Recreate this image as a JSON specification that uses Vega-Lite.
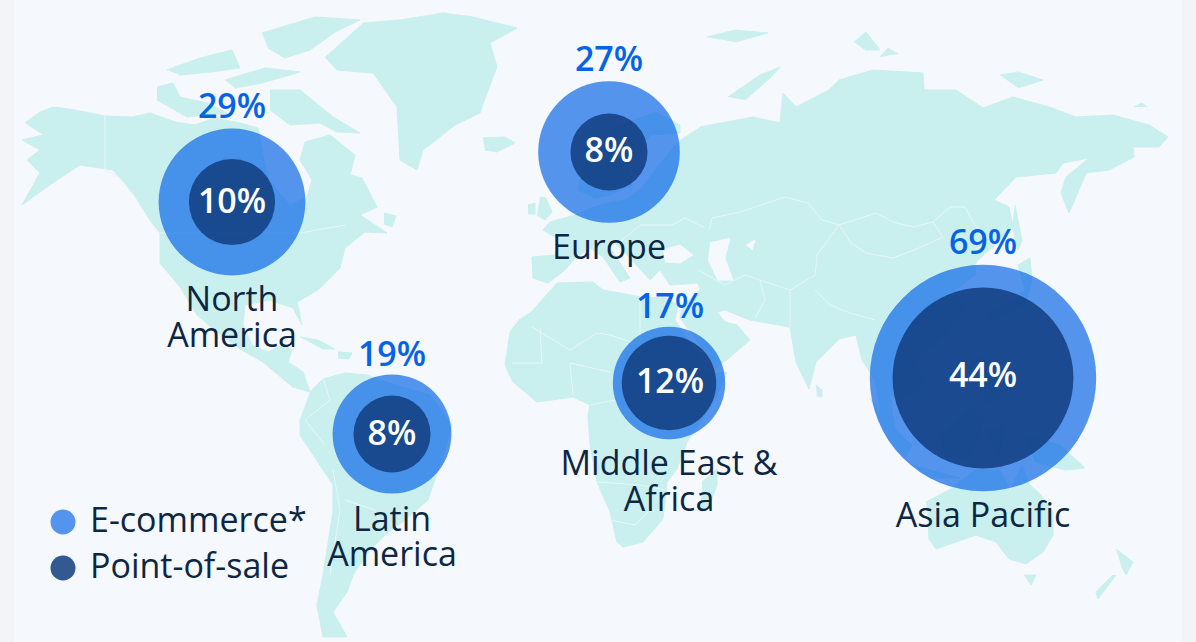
{"$schema":"https://vega.github.io/schema/vega-lite/v6.json","width":1196,"height":642,"padding":0,"autosize":{"type":"none"},"background":"#f3f4f6","config":{"view":{"stroke":null},"font":"Open Sans"},
"datasets":{
"panel":[{"x":14,"x2":1182,"y":0,"y2":642}],
"land":[
{"g":"na","x":25,"y":123},{"g":"na","x":40,"y":112},{"g":"na","x":53,"y":107},{"g":"na","x":75,"y":110},{"g":"na","x":105,"y":116},{"g":"na","x":133,"y":117},{"g":"na","x":150,"y":113},{"g":"na","x":175,"y":122},{"g":"na","x":195,"y":125},{"g":"na","x":215,"y":118},{"g":"na","x":240,"y":123},{"g":"na","x":258,"y":128},{"g":"na","x":262,"y":150},{"g":"na","x":268,"y":180},{"g":"na","x":290,"y":205},{"g":"na","x":307,"y":197},{"g":"na","x":312,"y":180},{"g":"na","x":300,"y":160},{"g":"na","x":305,"y":142},{"g":"na","x":330,"y":135},{"g":"na","x":355,"y":155},{"g":"na","x":350,"y":175},{"g":"na","x":362,"y":178},{"g":"na","x":377,"y":207},{"g":"na","x":360,"y":215},{"g":"na","x":387,"y":233},{"g":"na","x":365,"y":232},{"g":"na","x":345,"y":248},{"g":"na","x":340,"y":268},{"g":"na","x":318,"y":290},{"g":"na","x":297,"y":302},{"g":"na","x":302,"y":325},{"g":"na","x":293,"y":308},{"g":"na","x":270,"y":300},{"g":"na","x":245,"y":305},{"g":"na","x":243,"y":325},{"g":"na","x":252,"y":345},{"g":"na","x":268,"y":352},{"g":"na","x":283,"y":345},{"g":"na","x":292,"y":350},{"g":"na","x":288,"y":362},{"g":"na","x":303,"y":372},{"g":"na","x":310,"y":392},{"g":"na","x":293,"y":387},{"g":"na","x":283,"y":379},{"g":"na","x":263,"y":362},{"g":"na","x":240,"y":349},{"g":"na","x":217,"y":332},{"g":"na","x":197,"y":315},{"g":"na","x":180,"y":287},{"g":"na","x":160,"y":263},{"g":"na","x":160,"y":233},{"g":"na","x":150,"y":220},{"g":"na","x":133,"y":193},{"g":"na","x":113,"y":170},{"g":"na","x":80,"y":165},{"g":"na","x":57,"y":180},{"g":"na","x":22,"y":205},{"g":"na","x":40,"y":173},{"g":"na","x":27,"y":160},{"g":"na","x":40,"y":150},{"g":"na","x":22,"y":140},{"g":"na","x":43,"y":135},
{"g":"vic","x":157,"y":87},{"g":"vic","x":173,"y":83},{"g":"vic","x":180,"y":97},{"g":"vic","x":207,"y":103},{"g":"vic","x":227,"y":113},{"g":"vic","x":187,"y":117},{"g":"vic","x":157,"y":100},
{"g":"baf","x":270,"y":90},{"g":"baf","x":300,"y":90},{"g":"baf","x":333,"y":117},{"g":"baf","x":360,"y":133},{"g":"baf","x":337,"y":132},{"g":"baf","x":320,"y":123},{"g":"baf","x":290,"y":125},{"g":"baf","x":270,"y":110},
{"g":"ell","x":262,"y":33},{"g":"ell","x":315,"y":17},{"g":"ell","x":360,"y":20},{"g":"ell","x":335,"y":32},{"g":"ell","x":310,"y":50},{"g":"ell","x":285,"y":58},{"g":"ell","x":268,"y":48},
{"g":"qe","x":167,"y":70},{"g":"qe","x":200,"y":58},{"g":"qe","x":232,"y":50},{"g":"qe","x":240,"y":68},{"g":"qe","x":210,"y":72},{"g":"qe","x":180,"y":75},
{"g":"dev","x":225,"y":80},{"g":"dev","x":265,"y":68},{"g":"dev","x":300,"y":72},{"g":"dev","x":262,"y":83},{"g":"dev","x":235,"y":88},
{"g":"nfl","x":384,"y":213},{"g":"nfl","x":396,"y":216},{"g":"nfl","x":392,"y":227},{"g":"nfl","x":384,"y":224},
{"g":"cub","x":300,"y":337},{"g":"cub","x":318,"y":340},{"g":"cub","x":335,"y":349},{"g":"cub","x":322,"y":349},
{"g":"his","x":338,"y":352},{"g":"his","x":352,"y":353},{"g":"his","x":349,"y":359},{"g":"his","x":338,"y":358},
{"g":"grl","x":363,"y":23},{"g":"grl","x":400,"y":20},{"g":"grl","x":443,"y":13},{"g":"grl","x":473,"y":17},{"g":"grl","x":517,"y":28},{"g":"grl","x":490,"y":43},{"g":"grl","x":497,"y":67},{"g":"grl","x":487,"y":93},{"g":"grl","x":480,"y":113},{"g":"grl","x":455,"y":125},{"g":"grl","x":423,"y":150},{"g":"grl","x":417,"y":170},{"g":"grl","x":400,"y":160},{"g":"grl","x":397,"y":107},{"g":"grl","x":373,"y":73},{"g":"grl","x":337,"y":70},{"g":"grl","x":325,"y":57},
{"g":"ice","x":483,"y":138},{"g":"ice","x":505,"y":137},{"g":"ice","x":515,"y":143},{"g":"ice","x":497,"y":152},{"g":"ice","x":485,"y":150},
{"g":"uk","x":540,"y":197},{"g":"uk","x":546,"y":198},{"g":"uk","x":552,"y":212},{"g":"uk","x":545,"y":220},{"g":"uk","x":537,"y":215},
{"g":"ire","x":528,"y":205},{"g":"ire","x":535,"y":203},{"g":"ire","x":535,"y":214},{"g":"ire","x":528,"y":214},
{"g":"sca","x":655,"y":112},{"g":"sca","x":680,"y":125},{"g":"sca","x":680,"y":133},{"g":"sca","x":650,"y":135},{"g":"sca","x":628,"y":165},{"g":"sca","x":632,"y":185},{"g":"sca","x":610,"y":195},{"g":"sca","x":595,"y":198},{"g":"sca","x":578,"y":190},{"g":"sca","x":585,"y":165},{"g":"sca","x":620,"y":125},
{"g":"eur","x":700,"y":127},{"g":"eur","x":753,"y":117},{"g":"eur","x":780,"y":123},{"g":"eur","x":783,"y":93},{"g":"eur","x":796,"y":107},{"g":"eur","x":829,"y":90},{"g":"eur","x":839,"y":80},{"g":"eur","x":873,"y":70},{"g":"eur","x":923,"y":73},{"g":"eur","x":924,"y":90},{"g":"eur","x":956,"y":90},{"g":"eur","x":983,"y":108},{"g":"eur","x":1013,"y":97},{"g":"eur","x":1049,"y":107},{"g":"eur","x":1076,"y":117},{"g":"eur","x":1113,"y":115},{"g":"eur","x":1149,"y":125},{"g":"eur","x":1168,"y":137},{"g":"eur","x":1159,"y":147},{"g":"eur","x":1133,"y":147},{"g":"eur","x":1134,"y":157},{"g":"eur","x":1109,"y":170},{"g":"eur","x":1086,"y":173},{"g":"eur","x":1079,"y":190},{"g":"eur","x":1069,"y":213},{"g":"eur","x":1061,"y":193},{"g":"eur","x":1066,"y":177},{"g":"eur","x":1089,"y":158},{"g":"eur","x":1063,"y":163},{"g":"eur","x":1056,"y":173},{"g":"eur","x":1016,"y":177},{"g":"eur","x":994,"y":200},{"g":"eur","x":1009,"y":207},{"g":"eur","x":1013,"y":227},{"g":"eur","x":1000,"y":240},{"g":"eur","x":976,"y":262},{"g":"eur","x":975,"y":275},{"g":"eur","x":955,"y":290},{"g":"eur","x":965,"y":310},{"g":"eur","x":940,"y":340},{"g":"eur","x":915,"y":360},{"g":"eur","x":925,"y":385},{"g":"eur","x":905,"y":400},{"g":"eur","x":890,"y":395},{"g":"eur","x":895,"y":430},{"g":"eur","x":882,"y":420},{"g":"eur","x":875,"y":380},{"g":"eur","x":862,"y":360},{"g":"eur","x":856,"y":335},{"g":"eur","x":839,"y":339},{"g":"eur","x":816,"y":362},{"g":"eur","x":809,"y":389},{"g":"eur","x":796,"y":362},{"g":"eur","x":790,"y":327},{"g":"eur","x":750,"y":320},{"g":"eur","x":725,"y":310},{"g":"eur","x":717,"y":312},{"g":"eur","x":725,"y":322},{"g":"eur","x":737,"y":325},{"g":"eur","x":750,"y":340},{"g":"eur","x":728,"y":359},{"g":"eur","x":715,"y":368},{"g":"eur","x":700,"y":345},{"g":"eur","x":680,"y":318},{"g":"eur","x":683,"y":305},{"g":"eur","x":700,"y":290},{"g":"eur","x":698,"y":283},{"g":"eur","x":670,"y":285},{"g":"eur","x":660,"y":270},{"g":"eur","x":650,"y":280},{"g":"eur","x":630,"y":258},{"g":"eur","x":615,"y":243},{"g":"eur","x":610,"y":248},{"g":"eur","x":630,"y":278},{"g":"eur","x":620,"y":282},{"g":"eur","x":603,"y":257},{"g":"eur","x":590,"y":248},{"g":"eur","x":575,"y":258},{"g":"eur","x":565,"y":270},{"g":"eur","x":548,"y":283},{"g":"eur","x":533,"y":278},{"g":"eur","x":532,"y":257},{"g":"eur","x":555,"y":255},{"g":"eur","x":560,"y":240},{"g":"eur","x":543,"y":230},{"g":"eur","x":550,"y":222},{"g":"eur","x":575,"y":215},{"g":"eur","x":600,"y":205},{"g":"eur","x":625,"y":200},{"g":"eur","x":640,"y":190},{"g":"eur","x":655,"y":170},{"g":"eur","x":680,"y":140},
{"g":"nz1","x":728,"y":97},{"g":"nz1","x":760,"y":75},{"g":"nz1","x":780,"y":67},{"g":"nz1","x":770,"y":78},{"g":"nz1","x":745,"y":100},
{"g":"sv","x":707,"y":37},{"g":"sv","x":735,"y":30},{"g":"sv","x":768,"y":33},{"g":"sv","x":735,"y":42},
{"g":"si1","x":854,"y":42},{"g":"si1","x":866,"y":32},{"g":"si1","x":880,"y":50},{"g":"si1","x":865,"y":50},
{"g":"si2","x":880,"y":57},{"g":"si2","x":888,"y":48},{"g":"si2","x":898,"y":54},
{"g":"si3","x":1000,"y":75},{"g":"si3","x":1018,"y":72},{"g":"si3","x":1043,"y":80},{"g":"si3","x":1018,"y":88},
{"g":"wr","x":1134,"y":107},{"g":"wr","x":1142,"y":103},{"g":"wr","x":1147,"y":107},
{"g":"sak","x":1015,"y":205},{"g":"sak","x":1022,"y":240},{"g":"sak","x":1018,"y":250},{"g":"sak","x":1012,"y":225},
{"g":"jap","x":1010,"y":300},{"g":"jap","x":1025,"y":290},{"g":"jap","x":1018,"y":265},{"g":"jap","x":1030,"y":258},{"g":"jap","x":1032,"y":280},{"g":"jap","x":1025,"y":305},{"g":"jap","x":995,"y":320},{"g":"jap","x":985,"y":318},
{"g":"sri","x":816,"y":385},{"g":"sri","x":822,"y":390},{"g":"sri","x":822,"y":397},{"g":"sri","x":817,"y":396},
{"g":"sum","x":870,"y":398},{"g":"sum","x":890,"y":425},{"g":"sum","x":912,"y":445},{"g":"sum","x":905,"y":458},{"g":"sum","x":885,"y":435},
{"g":"jav","x":912,"y":465},{"g":"jav","x":960,"y":478},{"g":"jav","x":930,"y":478},
{"g":"bor","x":940,"y":435},{"g":"bor","x":970,"y":405},{"g":"bor","x":985,"y":420},{"g":"bor","x":970,"y":458},{"g":"bor","x":945,"y":455},
{"g":"phi","x":975,"y":355},{"g":"phi","x":985,"y":360},{"g":"phi","x":1000,"y":400},{"g":"phi","x":985,"y":405},
{"g":"sul","x":985,"y":430},{"g":"sul","x":1005,"y":425},{"g":"sul","x":998,"y":460},
{"g":"png","x":1025,"y":435},{"g":"png","x":1060,"y":445},{"g":"png","x":1085,"y":468},{"g":"png","x":1065,"y":470},{"g":"png","x":1035,"y":462},
{"g":"aus","x":926,"y":502},{"g":"aus","x":949,"y":490},{"g":"aus","x":975,"y":470},{"g":"aus","x":1000,"y":470},{"g":"aus","x":1010,"y":490},{"g":"aus","x":1022,"y":465},{"g":"aus","x":1029,"y":484},{"g":"aus","x":1041,"y":495},{"g":"aus","x":1053,"y":512},{"g":"aus","x":1053,"y":535},{"g":"aus","x":1043,"y":552},{"g":"aus","x":1026,"y":564},{"g":"aus","x":1009,"y":559},{"g":"aus","x":996,"y":542},{"g":"aus","x":976,"y":535},{"g":"aus","x":956,"y":542},{"g":"aus","x":936,"y":549},{"g":"aus","x":929,"y":539},{"g":"aus","x":928,"y":519},
{"g":"tas","x":1024,"y":575},{"g":"tas","x":1036,"y":575},{"g":"tas","x":1031,"y":585},
{"g":"nzn","x":1116,"y":549},{"g":"nzn","x":1133,"y":562},{"g":"nzn","x":1126,"y":575},{"g":"nzn","x":1121,"y":565},
{"g":"nzs","x":1116,"y":575},{"g":"nzs","x":1098,"y":599},{"g":"nzs","x":1096,"y":592},{"g":"nzs","x":1113,"y":575},
{"g":"afr","x":533,"y":310},{"g":"afr","x":557,"y":283},{"g":"afr","x":593,"y":282},{"g":"afr","x":603,"y":290},{"g":"afr","x":620,"y":293},{"g":"afr","x":640,"y":297},{"g":"afr","x":665,"y":298},{"g":"afr","x":678,"y":305},{"g":"afr","x":675,"y":320},{"g":"afr","x":695,"y":350},{"g":"afr","x":708,"y":375},{"g":"afr","x":727,"y":372},{"g":"afr","x":715,"y":400},{"g":"afr","x":687,"y":442},{"g":"afr","x":677,"y":469},{"g":"afr","x":667,"y":482},{"g":"afr","x":663,"y":519},{"g":"afr","x":643,"y":542},{"g":"afr","x":623,"y":547},{"g":"afr","x":617,"y":542},{"g":"afr","x":610,"y":512},{"g":"afr","x":597,"y":482},{"g":"afr","x":590,"y":445},{"g":"afr","x":588,"y":415},{"g":"afr","x":590,"y":405},{"g":"afr","x":573,"y":397},{"g":"afr","x":537,"y":402},{"g":"afr","x":513,"y":382},{"g":"afr","x":505,"y":365},{"g":"afr","x":510,"y":332},{"g":"afr","x":520,"y":319},
{"g":"mad","x":702,"y":482},{"g":"mad","x":717,"y":469},{"g":"mad","x":717,"y":485},{"g":"mad","x":708,"y":509},{"g":"mad","x":700,"y":512},{"g":"mad","x":702,"y":495},
{"g":"sam","x":310,"y":392},{"g":"sam","x":323,"y":379},{"g":"sam","x":345,"y":373},{"g":"sam","x":367,"y":375},{"g":"sam","x":395,"y":385},{"g":"sam","x":430,"y":395},{"g":"sam","x":452,"y":425},{"g":"sam","x":445,"y":450},{"g":"sam","x":433,"y":485},{"g":"sam","x":428,"y":500},{"g":"sam","x":405,"y":520},{"g":"sam","x":385,"y":535},{"g":"sam","x":370,"y":550},{"g":"sam","x":353,"y":575},{"g":"sam","x":347,"y":592},{"g":"sam","x":333,"y":612},{"g":"sam","x":347,"y":637},{"g":"sam","x":323,"y":637},{"g":"sam","x":317,"y":605},{"g":"sam","x":323,"y":575},{"g":"sam","x":333,"y":512},{"g":"sam","x":333,"y":485},{"g":"sam","x":300,"y":435},{"g":"sam","x":300,"y":419}
],
"water":[
{"g":"bla","x":663,"y":250},{"g":"bla","x":680,"y":245},{"g":"bla","x":693,"y":255},{"g":"bla","x":680,"y":263},{"g":"bla","x":665,"y":262},
{"g":"cas","x":710,"y":243},{"g":"cas","x":730,"y":238},{"g":"cas","x":725,"y":258},{"g":"cas","x":733,"y":280},{"g":"cas","x":718,"y":280},{"g":"cas","x":708,"y":260},
{"g":"ara","x":746,"y":245},{"g":"ara","x":755,"y":240},{"g":"ara","x":752,"y":250}
],
"borders":[
{"g":"b1","x":105,"y":116},{"g":"b1","x":105,"y":170},{"g":"b1","x":120,"y":178},{"g":"b1","x":133,"y":195},
{"g":"b2","x":160,"y":233},{"g":"b2","x":300,"y":233},{"g":"b2","x":345,"y":225},
{"g":"mon","x":839,"y":225},{"g":"mon","x":876,"y":213},{"g":"mon","x":893,"y":222},{"g":"mon","x":913,"y":227},{"g":"mon","x":933,"y":222},{"g":"mon","x":943,"y":237},{"g":"mon","x":919,"y":248},{"g":"mon","x":893,"y":258},{"g":"mon","x":866,"y":253},{"g":"mon","x":851,"y":243},{"g":"mon","x":839,"y":225},
{"g":"chn","x":933,"y":222},{"g":"chn","x":950,"y":207},{"g":"chn","x":965,"y":207},{"g":"chn","x":975,"y":225},{"g":"chn","x":990,"y":240},{"g":"chn","x":975,"y":250},
{"g":"kaz","x":709,"y":230},{"g":"kaz","x":712,"y":218},{"g":"kaz","x":740,"y":212},{"g":"kaz","x":785,"y":197},{"g":"kaz","x":808,"y":203},{"g":"kaz","x":822,"y":220},{"g":"kaz","x":839,"y":225},
{"g":"in1","x":815,"y":275},{"g":"in1","x":817,"y":255},{"g":"in1","x":839,"y":225},
{"g":"hml","x":815,"y":290},{"g":"hml","x":830,"y":305},{"g":"hml","x":850,"y":313},{"g":"hml","x":875,"y":320},
{"g":"pak","x":790,"y":327},{"g":"pak","x":790,"y":290},{"g":"pak","x":815,"y":275},
{"g":"irn","x":760,"y":280},{"g":"irn","x":765,"y":300},{"g":"irn","x":755,"y":318},
{"g":"tur","x":698,"y":270},{"g":"tur","x":725,"y":285},{"g":"tur","x":745,"y":275},{"g":"tur","x":790,"y":290},
{"g":"eu1","x":620,"y":242},{"g":"eu1","x":640,"y":225},{"g":"eu1","x":672,"y":225},{"g":"eu1","x":685,"y":218},{"g":"eu1","x":705,"y":228},
{"g":"a1","x":640,"y":297},{"g":"a1","x":640,"y":365},
{"g":"a2","x":532,"y":327},{"g":"a2","x":570,"y":350},{"g":"a2","x":597,"y":333},{"g":"a2","x":610,"y":335},{"g":"a2","x":640,"y":345},
{"g":"a3","x":512,"y":363},{"g":"a3","x":542,"y":363},{"g":"a3","x":540,"y":328},
{"g":"a4","x":573,"y":395},{"g":"a4","x":570,"y":363},{"g":"a4","x":610,"y":372},
{"g":"a5","x":590,"y":405},{"g":"a5","x":615,"y":400},{"g":"a5","x":630,"y":415},{"g":"a5","x":660,"y":440},
{"g":"a6","x":597,"y":482},{"g":"a6","x":640,"y":485},{"g":"a6","x":665,"y":490},
{"g":"a7","x":610,"y":520},{"g":"a7","x":635,"y":525},{"g":"a7","x":650,"y":510},
{"g":"s1","x":323,"y":378},{"g":"s1","x":330,"y":400},{"g":"s1","x":305,"y":420},{"g":"s1","x":325,"y":445},
{"g":"s2","x":333,"y":470},{"g":"s2","x":340,"y":510},{"g":"s2","x":330,"y":575},
{"g":"s3","x":345,"y":500},{"g":"s3","x":375,"y":510},{"g":"s3","x":385,"y":535}
],
"bubbles":[
{"region":"North America","channel":"E-commerce*","share":29,"x":232,"y":202},
{"region":"Europe","channel":"E-commerce*","share":27,"x":609,"y":152},
{"region":"Latin America","channel":"E-commerce*","share":19,"x":392,"y":434},
{"region":"Middle East & Africa","channel":"E-commerce*","share":17,"x":669,"y":383},
{"region":"Asia Pacific","channel":"E-commerce*","share":69,"x":983,"y":378},
{"region":"North America","channel":"Point-of-sale","share":10,"x":232,"y":202},
{"region":"Europe","channel":"Point-of-sale","share":8,"x":609,"y":152},
{"region":"Latin America","channel":"Point-of-sale","share":8,"x":392,"y":434},
{"region":"Middle East & Africa","channel":"Point-of-sale","share":12,"x":669,"y":383},
{"region":"Asia Pacific","channel":"Point-of-sale","share":44,"x":983,"y":378}
],
"ecom":[{"t":"29%","x":232,"y":108},{"t":"27%","x":609,"y":61},{"t":"19%","x":392,"y":356},{"t":"17%","x":670,"y":308},{"t":"69%","x":983,"y":244}],
"pos":[{"t":"10%","x":232,"y":203},{"t":"8%","x":609,"y":152},{"t":"8%","x":392,"y":435},{"t":"12%","x":670,"y":383},{"t":"44%","x":983,"y":377}],
"names":[{"t":"North","x":232,"y":301},{"t":"America","x":232,"y":337},{"t":"Europe","x":609,"y":249},{"t":"Latin","x":392,"y":521},{"t":"America","x":392,"y":556},{"t":"Middle East &","x":669,"y":465},{"t":"Africa","x":669,"y":501},{"t":"Asia Pacific","x":983,"y":517}]
},
"encoding":{
"x":{"field":"x","type":"quantitative","axis":null,"scale":{"domain":[0,1196],"nice":false,"zero":false}},
"y":{"field":"y","type":"quantitative","axis":null,"scale":{"domain":[642,0],"nice":false,"zero":false}}
},
"layer":[
{"data":{"name":"panel"},"mark":{"type":"rect","fill":"#f5f8fc"},"encoding":{"x2":{"field":"x2"},"y2":{"field":"y2"}}},
{"data":{"name":"land"},"mark":{"type":"line","fill":"#caefef","stroke":"#caefef","strokeWidth":1},"encoding":{"detail":{"field":"g"},"order":{"value":null}}},
{"data":{"name":"water"},"mark":{"type":"line","fill":"#f5f8fc","stroke":"#f5f8fc","strokeWidth":1},"encoding":{"detail":{"field":"g"},"order":{"value":null}}},
{"data":{"name":"borders"},"mark":{"type":"line","stroke":"#e6f7f7","strokeWidth":1},"encoding":{"detail":{"field":"g"},"order":{"value":null}}},
{"data":{"name":"bubbles"},"mark":{"type":"point","filled":true,"shape":"circle","strokeWidth":0},"encoding":{
"color":{"field":"channel","type":"nominal","sort":["E-commerce*","Point-of-sale"],"scale":{"domain":["E-commerce*","Point-of-sale"],"range":["#0563e6","#123d7f"]},"legend":{"title":null,"orient":"none","legendX":46,"legendY":505,"symbolType":"circle","symbolSize":625,"symbolStrokeWidth":0,"labelFont":"Open Sans","labelFontSize":34,"labelColor":"#0d2742","labelOffset":10,"rowPadding":12,"labelLimit":400,"encode":{"symbols":{"update":{"opacity":{"value":1}}}}}},
"opacity":{"field":"channel","type":"nominal","scale":{"domain":["E-commerce*","Point-of-sale"],"range":[0.67,0.85]},"legend":null},
"size":{"field":"share","type":"quantitative","scale":{"domain":[0,100],"range":[0,74300],"zero":true},"legend":null},
"order":{"field":"channel"}
}},
{"data":{"name":"ecom"},"mark":{"type":"text","font":"Open Sans","fontSize":34,"fontWeight":600,"color":"#0563e6","align":"center","baseline":"middle"},"encoding":{"text":{"field":"t"}}},
{"data":{"name":"pos"},"mark":{"type":"text","font":"Open Sans","fontSize":34,"fontWeight":600,"color":"#ffffff","align":"center","baseline":"middle"},"encoding":{"text":{"field":"t"}}},
{"data":{"name":"names"},"mark":{"type":"text","font":"Open Sans","fontSize":34,"color":"#0d2742","align":"center","baseline":"middle"},"encoding":{"text":{"field":"t"}}}
]}
